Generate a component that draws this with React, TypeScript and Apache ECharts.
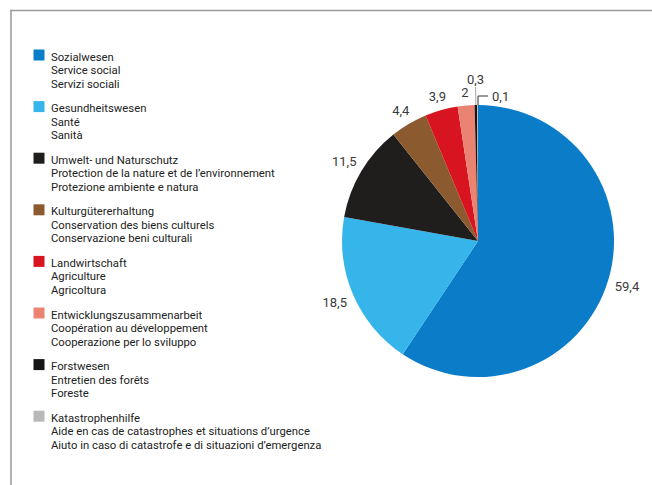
import React, { useEffect, useRef } from "react";
import * as echarts from "echarts";

const categoriesDe = [
  "Sozialwesen",
  "Gesundheitswesen",
  "Umwelt- und Naturschutz",
  "Kulturgütererhaltung",
  "Landwirtschaft",
  "Entwicklungszusammenarbeit",
  "Forstwesen",
  "Katastrophenhilfe",
];
const categoriesFr = [
  "Service social",
  "Santé",
  "Protection de la nature et de l’environnement",
  "Conservation des biens culturels",
  "Agriculture",
  "Coopération au développement",
  "Entretien des forêts",
  "Aide en cas de catastrophes et situations d’urgence",
];
const categoriesIt = [
  "Servizi sociali",
  "Sanità",
  "Protezione ambiente e natura",
  "Conservazione beni culturali",
  "Agricoltura",
  "Cooperazione per lo sviluppo",
  "Foreste",
  "Aiuto in caso di catastrofe e di situazioni d’emergenza",
];
const values = [59.4, 18.5, 11.5, 4.4, 3.9, 2, 0.3, 0.1];
const colors = ["#0a7cc8", "#36b5ea", "#201e1d", "#8b5a2f", "#d7141f", "#ea8372", "#151515", "#b8b8b8"];

const FONT = "Roboto, 'Noto Sans', sans-serif";

export default function App() {
  const ref = useRef<HTMLDivElement>(null);

  useEffect(() => {
    if (!ref.current) return;
    const chart = echarts.init(ref.current, null, { renderer: "svg" });

    const legendGroups: any[] = categoriesDe.map((de, i) => {
      const top = 49.5 + i * 51.6;
      return {
        type: "group",
        children: [
          {
            type: "rect",
            shape: { x: 33.5, y: top, width: 11, height: 11 },
            style: { fill: colors[i] },
          },
          {
            type: "text",
            x: 51,
            y: top + 1,
            style: {
              text: [de, categoriesFr[i], categoriesIt[i]].join("\n"),
              font: `11.3px ${FONT}`,
              fill: "#222222",
              lineHeight: 13.4,
              verticalAlign: "top",
              align: "left",
            },
          },
        ],
      };
    });

    const lastIndex = values.length - 1;
    const smallIndex = values.length - 2;
    const GAP = 6;

    const data = values.map((v, i) => {
      const item: any = {
        value: v,
        name: categoriesDe[i],
        itemStyle: { color: colors[i] },
      };
      if (i === smallIndex) {
        item.labelLine = { show: true, length: 18, length2: 0, lineStyle: { color: "#a8a8a8", width: 1 } };
      } else if (i === lastIndex) {
        item.labelLine = { show: true, length: 9, length2: 0, lineStyle: { color: "#333", width: 1 } };
      }
      return item;
    });

    chart.setOption({
      animation: false,
      backgroundColor: "#ffffff",
      graphic: [
        {
          type: "line",
          shape: { x1: 10, y1: 10.5, x2: 652, y2: 10.5 },
          style: { stroke: "#9a9a9a", lineWidth: 1.5 },
        },
        {
          type: "line",
          shape: { x1: 11, y1: 10, x2: 11, y2: 485 },
          style: { stroke: "#9a9a9a", lineWidth: 1.5 },
        },
        ...legendGroups,
      ],
      series: [
        {
          type: "pie",
          center: [478, 241],
          radius: 136,
          startAngle: 90,
          clockwise: true,
          avoidLabelOverlap: false,
          minAngle: 0,
          itemStyle: { borderWidth: 0 },
          label: {
            show: true,
            position: "outside",
            alignTo: "none",
            color: "#3a3a3a",
            fontFamily: FONT,
            fontSize: 13,
            formatter: (p: any) => String(p.value).replace(".", ","),
          },
          labelLine: { show: false, length: 7, length2: 0 },
          emphasis: { disabled: true },
          labelLayout: (params: any) => {
            const pts = params.labelLinePoints;
            if (!pts || pts.length < 2) return {};
            const p0 = pts[0];
            const p1 = pts[1];
            const end = pts[pts.length - 1];
            const vx = p1[0] - p0[0];
            const vy = p1[1] - p0[1];
            const len = Math.hypot(vx, vy) || 1;
            const ux = vx / len;
            const uy = vy / len;
            if (params.dataIndex === lastIndex) {
              const knee = [p1[0] + 0.5, p1[1]];
              const tail = [knee[0] + 10, knee[1]];
              return {
                x: tail[0] + 4,
                y: tail[1],
                align: "left",
                verticalAlign: "middle",
                labelLinePoints: [[knee[0], p0[1]], knee, tail],
              };
            }
            if (params.dataIndex === smallIndex) {
              return {
                x: end[0],
                y: end[1] - 1,
                align: "center",
                verticalAlign: "bottom",
                labelLinePoints: pts,
              };
            }
            const w = params.labelRect ? params.labelRect.width : 20;
            const h = params.labelRect ? params.labelRect.height : 12;
            const half = Math.abs(ux) * (w / 2) + Math.abs(uy) * (h / 2);
            const d = GAP + half;
            return {
              x: p0[0] + ux * d,
              y: p0[1] + uy * d,
              align: "center",
              verticalAlign: "middle",
              labelLinePoints: pts,
            };
          },
          data,
        },
      ],
    });

    return () => chart.dispose();
  }, []);

  return (
    <div
      ref={ref}
      style={{ position: "absolute", left: 0, top: 0, width: 652, height: 485 }}
    />
  );
}
